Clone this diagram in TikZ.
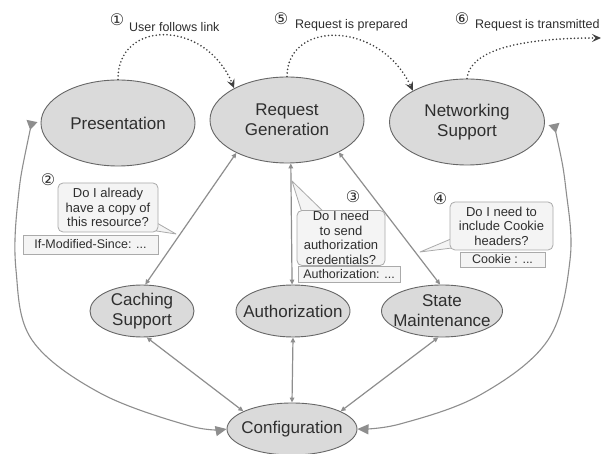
\documentclass[tikz,border=0pt]{standalone}
\usepackage{fontspec}
\setmainfont{Liberation Sans}
\newfontfamily\circfont{DejaVu Sans}
\usetikzlibrary{arrows.meta,shapes.geometric}

\definecolor{bubblefill}{HTML}{DADADA}
\definecolor{bubbleline}{HTML}{666666}
\definecolor{inktext}{HTML}{2E2E2E}
\definecolor{linkgray}{HTML}{8E8E8E}
\definecolor{notefill}{HTML}{F4F4F4}
\definecolor{noteline}{HTML}{AAAAAA}
\definecolor{flowdark}{HTML}{404040}

\begin{document}
\begin{tikzpicture}[x=1pt,y=-1pt,
  module/.style={ellipse, draw=bubbleline, fill=bubblefill, line width=0.9pt,
    inner xsep=-30pt, inner ysep=-10pt, align=center, text=inktext,
    font=\fontsize{17}{20}\selectfont},
  link/.style={draw=linkgray, line width=1.2pt,
    {Triangle[length=5pt,width=4.5pt]}-{Triangle[length=5pt,width=4.5pt]}},
  loopback/.style={draw=linkgray, line width=1.1pt,
    {Triangle[reversed,length=9pt,width=11pt]}-{Triangle[length=11pt,width=10pt]}},
  flow/.style={draw=flowdark, line width=1.8pt, line cap=round,
    dash pattern=on 0pt off 3.6pt,
    -{Stealth[length=9pt,width=8pt,inset=3.5pt]}},
  note/.style={rectangle, rounded corners=5pt, draw=noteline, fill=notefill,
    line width=0.8pt, align=center, text=inktext, inner sep=1pt,
    font=\fontsize{13}{14.5}\selectfont},
  tag/.style={rectangle, draw=noteline, fill=notefill, line width=0.8pt,
    text=inktext, inner sep=1pt, font=\fontsize{12.5}{14}\selectfont},
  tail/.style={draw=noteline, fill=notefill, line width=0.8pt, line join=round},
  num/.style={text=inktext, inner sep=0pt, font=\circfont\fontsize{16}{16}\selectfont},
  toplabel/.style={anchor=west, text=inktext, inner sep=0pt,
    font=\fontsize{12.5}{15}\selectfont}
]
\useasboundingbox (0,0) rectangle (605,454);
\fill[white] (0,0) rectangle (605,454);

% modules
\node[module, minimum width=154pt, minimum height=86pt] (pres) at (118,123) {Presentation};
\node[module, minimum width=154pt, minimum height=86pt] (reqgen) at (287,120) {Request\\Generation};
\node[module, minimum width=155pt, minimum height=86pt] (net) at (467,122) {Networking\\Support};
\node[module, minimum width=104pt, minimum height=52pt] (cach) at (142,311) {Caching\\Support};
\node[module, minimum width=114pt, minimum height=52pt] (auth) at (293,311) {Authorization};
\node[module, minimum width=121pt, minimum height=52pt] (state) at (442,311) {State\\Maintenance};
\node[module, minimum width=130pt, minimum height=52pt] (conf) at (292,429) {Configuration};

% links between modules
\draw[link] (cach.83) -- (reqgen.213);
\draw[link] (auth.92) -- (reqgen.275);
\draw[link] (state.94) -- (reqgen.328);
\draw[link] (cach.280) -- (conf.160);
\draw[link] (auth.270) -- (conf.90);
\draw[link] (state.262) -- (conf.20);

% side loops into configuration
\coordinate (pl) at (32,121);
\coordinate (pr) at (554,124);
\draw[loopback] plot[smooth, tension=0.6] coordinates
  {(pl) (18,200) (16,270) (32,340) (100,393) (190,426) (conf.west)};
\draw[loopback] plot[smooth, tension=0.6] coordinates
  {(pr) (566,190) (570,260) (548,340) (480,395) (400,424) (conf.east)};

% request flow
\coordinate (out6) at (601,38);
\draw[flow] (pres.north) .. controls (117,20) and (205,18) .. (reqgen.149);
\draw[flow] (reqgen.north) .. controls (287,20) and (380,20) .. (net.150);
\draw[flow] (net.north) .. controls (470,50) and (520,38) .. (out6);

\node[num] (n1) at (117,20) {①};
\node[toplabel] (l1) at (129,27) {User follows link};
\node[num] (n5) at (281,19) {⑤};
\node[toplabel] (l5) at (295,25) {Request is prepared};
\node[num] (n6) at (462,19) {⑥};
\node[toplabel] (l6) at (475,25) {Request is transmitted};

% question callouts
\draw[tail] (150,219) -- (176,234) -- (150,230) -- cycle;
\draw[tail] (303,216) -- (292,181) -- (328,216) -- cycle;
\draw[tail] (458,236) -- (420,252) -- (468,246) -- cycle;

\node[num] (n2) at (48,180) {②};
\node[note, minimum width=100pt, minimum height=49pt] (q2) at (108,207.5)
  {Do I already\\have a copy of\\this resource?};
\node[tag, minimum width=135pt, minimum height=19pt] (h2) at (90.5,244.5)
  {If-Modified-Since: ...};

\node[num] (n3) at (353,197) {③};
\node[note, minimum width=88pt, minimum height=55pt] (q3) at (341,238)
  {Do I need\\to send\\authorization\\credentials?};
\node[tag, minimum width=102pt, minimum height=16pt] (h3) at (349,274.5)
  {Authorization: ...};

\node[num] (n4) at (440,199) {④};
\node[note, minimum width=103pt, minimum height=48pt] (q4) at (501.5,226)
  {Do I need to\\include Cookie\\headers?};
\node[tag, minimum width=85pt, minimum height=15pt] (h4) at (502.5,259.5)
  {Cookie : ...};
\end{tikzpicture}
\end{document}
